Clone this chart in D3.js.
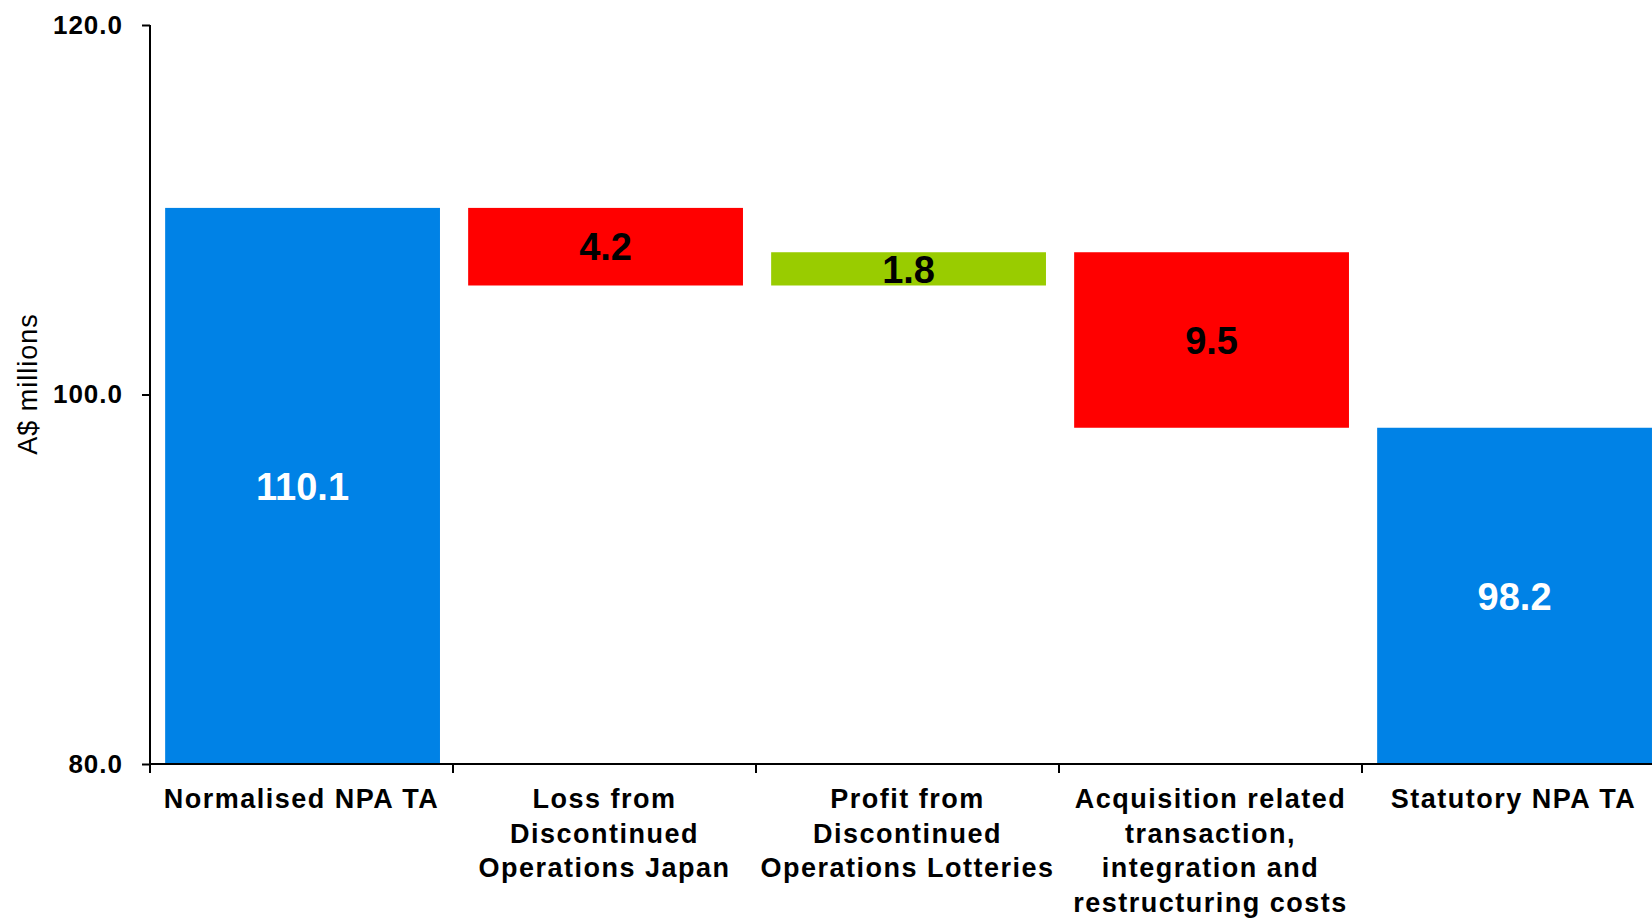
<!DOCTYPE html>
<html><head><meta charset="utf-8">
<script src="https://cdn.jsdelivr.net/npm/d3@7"></script>
<style>body{margin:0;background:#fff}svg{display:block}</style>
</head><body>
<svg id="c" width="1652" height="920"></svg>
<script>
const categories = [
  ["Normalised NPA TA"],
  ["Loss from","Discontinued","Operations Japan"],
  ["Profit from","Discontinued","Operations Lotteries"],
  ["Acquisition related","transaction,","integration and","restructuring costs"],
  ["Statutory NPA TA"]
];
const deltas = [110.1, -4.2, 1.8, -9.5, 98.2];
const kinds = ["total","neg","pos","neg","total"];
const yTicks = [80, 100, 120];
const colors = {total:"#0082E6", neg:"#FF0000", pos:"#99CC00"};

const svg = d3.select("#c");
const keys = categories.map((c,i)=>"c"+i);
const x = d3.scaleBand().domain(keys).range([150, 1665]).padding(0);
const y = d3.scaleLinear().domain([80,120]).range([764, 25]);

let run = 0;
const bars = deltas.map((v,i)=>{
  let lo, hi;
  if (kinds[i]==="total") { lo = 80; hi = v; run = v; }
  else { const s = run, e = run + v; lo = Math.min(s,e); hi = Math.max(s,e); run = e; }
  return {k:keys[i], lo, hi, v:Math.abs(v), kind:kinds[i]};
});

const bw = x.bandwidth();
svg.selectAll("rect.bar").data(bars).enter().append("rect")
  .attr("x", d=>x(d.k)+bw*0.05)
  .attr("width", bw*0.907)
  .attr("y", d=>y(d.hi))
  .attr("height", d=>y(d.lo)-y(d.hi))
  .attr("fill", d=>colors[d.kind]);

svg.selectAll("text.val").data(bars).enter().append("text")
  .attr("x", d=>x(d.k)+bw*0.05+bw*0.907/2)
  .attr("y", d=>(y(d.lo)+y(d.hi))/2)
  .attr("dy","0.36em")
  .attr("text-anchor","middle")
  .attr("font-family","Liberation Sans, Arial, sans-serif")
  .attr("font-weight","bold")
  .attr("font-size", 38)
  .attr("fill", d=>d.kind==="total" ? "#fff" : "#000")
  .text(d=>d.v.toFixed(1));

// y axis
const ya = svg.append("g").attr("transform","translate(150,0)")
  .call(d3.axisLeft(y).tickValues(yTicks).tickSize(8).tickPadding(19).tickFormat(d3.format(".1f")));
ya.select(".domain").attr("d","M0,25V764").attr("stroke","#000").attr("stroke-width",2);
ya.selectAll(".tick line").attr("stroke","#000").attr("stroke-width",2);
ya.selectAll(".tick text").attr("font-family","Liberation Sans, Arial, sans-serif")
  .attr("font-weight","bold").attr("font-size",26).attr("letter-spacing","1px").attr("fill","#000");

// x axis
const xa = svg.append("g").attr("transform","translate(0,764)");
xa.append("line").attr("x1",150).attr("x2",1652).attr("y1",0).attr("y2",0)
  .attr("stroke","#000").attr("stroke-width",2);
xa.selectAll("line.t").data(keys).enter().append("line")
  .attr("x1",d=>x(d)).attr("x2",d=>x(d)).attr("y1",0).attr("y2",9)
  .attr("stroke","#000").attr("stroke-width",2);
const lab = xa.selectAll("text.cat").data(categories).enter().append("text")
  .attr("text-anchor","middle")
  .attr("font-family","Liberation Sans, Arial, sans-serif")
  .attr("font-weight","bold").attr("font-size",27).attr("letter-spacing","1.5px").attr("fill","#000");
lab.each(function(lines,i){
  const t = d3.select(this);
  lines.forEach((l,j)=>{
    t.append("tspan").attr("x", x(keys[i])+bw/2).attr("y", 44 + j*34.5).text(l);
  });
});

// y title
svg.append("text")
  .attr("transform","translate(37,384) rotate(-90)")
  .attr("text-anchor","middle")
  .attr("font-family","Liberation Sans, Arial, sans-serif")
  .attr("font-size",27).attr("letter-spacing","1px").attr("fill","#000")
  .text("A$ millions");
</script>
</body></html>
